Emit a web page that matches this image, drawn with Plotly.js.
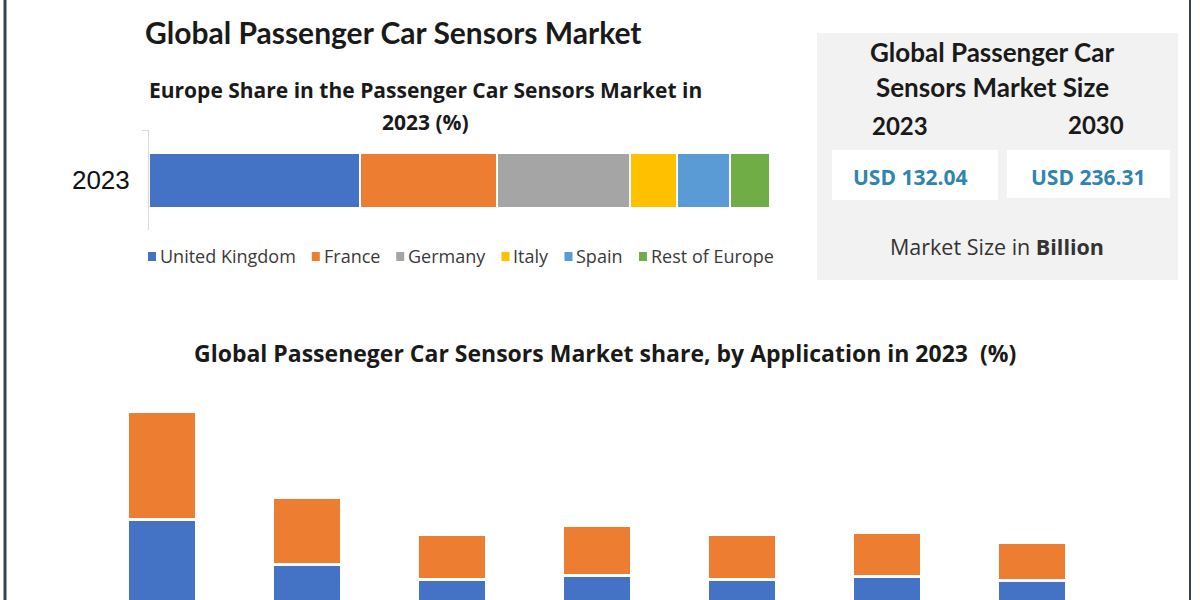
<!DOCTYPE html>
<html><head><meta charset="utf-8">
<script src="https://cdn.plot.ly/plotly-3.0.1.min.js"></script>
<style>html,body{margin:0;padding:0;background:#fff;overflow:hidden;} #chart{width:1200px;height:600px;}</style>
</head><body><div id="chart"></div>
<script>
// ---- data ----
const europeYear = ['2023'];
const europeCountries = ['United Kingdom', 'France', 'Germany', 'Italy', 'Spain', 'Rest of Europe'];
const europeShares = [34, 22, 21.5, 7.5, 8.5, 6.5];
const europeColors = ['#4472c4', '#ed7d31', '#a5a5a5', '#ffc000', '#5b9bd5', '#70ad47'];

const applications = ['Powertrain', 'Chassis', 'Exhaust', 'Safety & Control', 'Vehicle Security', 'Telematics', 'Others'];
const appSeriesNames = ['Series 1', 'Series 2'];
const appSeriesA = [13.4, 8.9, 7.4, 7.8, 7.4, 7.7, 7.3];
const appSeriesB = [10.8, 6.7, 4.5, 5.0, 4.5, 4.4, 3.8];
const appColors = ['#4472c4', '#ed7d31'];

const marketYears = ['2023', '2030'];
const marketValues = [132.04, 236.31];

// ---- helpers (pixel -> paper) ----
const W = 1200, H = 600;
const px = x => x / W;
const py = y => 1 - y / H;

const traces = [];
europeCountries.forEach((c, i) => {
  traces.push({
    type: 'bar', orientation: 'h', name: c,
    x: [europeShares[i]], y: europeYear,
    xaxis: 'x', yaxis: 'y', width: 0.55,
    marker: {color: europeColors[i], line: {color: '#ffffff', width: 2}},
    showlegend: false
  });
});
[appSeriesA, appSeriesB].forEach((vals, k) => {
  traces.push({
    type: 'bar', name: appSeriesNames[k],
    x: applications, y: vals,
    xaxis: 'x2', yaxis: 'y2', width: 0.476,
    marker: {color: appColors[k], line: {color: '#ffffff', width: 3}},
    showlegend: false
  });
});

const LATO = 'Lato, "Open Sans", sans-serif';
const OPEN = '"Open Sans", sans-serif';
const tf = (fam, s, c) => ({family: fam, size: s, color: c || '#1a1a1a'});
const ann = (text, x, y, font, xanchor) => ({text, x: px(x), y: py(y), xref: 'paper', yref: 'paper',
  showarrow: false, xanchor: xanchor || 'center', yanchor: 'middle', font});

const annotations = [
  ann('<b>Global Passenger Car Sensors Market</b>', 393, 32, tf(LATO, 30)),
  ann('<b>Europe Share in the Passenger Car Sensors Market in</b>', 425, 90, tf(OPEN, 21)),
  ann('<b>2023 (%)</b>', 425, 122, tf(OPEN, 21)),
  ann('<b>Global Passenger Car</b>', 992, 52, tf(LATO, 26)),
  ann('<b>Sensors Market Size</b>', 992, 87, tf(LATO, 26)),
  ann('<b>' + marketYears[0] + '</b>', 900, 126, tf(LATO, 24)),
  ann('<b>' + marketYears[1] + '</b>', 1096, 124, tf(LATO, 24)),
  ann('<b>USD ' + marketValues[0].toFixed(2) + '</b>', 910, 177, tf(OPEN, 21, '#2f85b0')),
  ann('<b>USD ' + marketValues[1].toFixed(2) + '</b>', 1088, 177, tf(OPEN, 21, '#2f85b0')),
  ann('Market Size in <b>Billion</b>', 997, 247, tf(OPEN, 21.5, '#333333')),
  ann('<b>Global Passeneger Car Sensors Market share, by Application in 2023  (%)</b>', 605, 353, tf(OPEN, 23))
];

const shapes = [
  {type: 'rect', xref: 'paper', yref: 'paper', x0: px(817), x1: px(1178), y0: py(280), y1: py(33),
   fillcolor: '#f2f2f2', line: {width: 0}, layer: 'below'},
  {type: 'rect', xref: 'paper', yref: 'paper', x0: px(832), x1: px(998), y0: py(200), y1: py(150),
   fillcolor: '#ffffff', line: {width: 0}, layer: 'below'},
  {type: 'rect', xref: 'paper', yref: 'paper', x0: px(1007), x1: px(1170), y0: py(198), y1: py(150),
   fillcolor: '#ffffff', line: {width: 0}, layer: 'below'},
  {type: 'line', xref: 'paper', yref: 'paper', x0: px(5), x1: px(5), y0: 0, y1: 1,
   line: {color: '#34444c', width: 3}},
  {type: 'line', xref: 'paper', yref: 'paper', x0: px(1190), x1: px(1190), y0: 0, y1: 1,
   line: {color: '#34444c', width: 2}}
];

// ---- legend for the Europe bar (swatch + label per series, laid out by measured text width) ----
const legendFontSize = 18;
const ctx = document.createElement('canvas').getContext('2d');
ctx.font = legendFontSize + 'px "Open Sans"';
let lx = 148;
const legendY = 256;
europeCountries.forEach((c, i) => {
  shapes.push({type: 'rect', xref: 'paper', yref: 'paper', x0: px(lx), x1: px(lx + 8),
    y0: py(legendY + 5), y1: py(legendY - 4), fillcolor: europeColors[i], line: {width: 0}});
  const tx = lx + 10;
  annotations.push(ann(c, tx, legendY, tf(OPEN, legendFontSize, '#3a3a3a'), 'left'));
  lx = tx + ctx.measureText(c).width + 18;
});

const layout = {
  width: W, height: H,
  margin: {l: 0, r: 0, t: 0, b: 0},
  paper_bgcolor: '#ffffff', plot_bgcolor: 'rgba(0,0,0,0)',
  barmode: 'stack',
  showlegend: false,
  xaxis: {domain: [px(149), px(770)], range: [0, 100], anchor: 'y',
    showgrid: false, zeroline: false, showticklabels: false, showline: false, fixedrange: true},
  yaxis: {domain: [py(230), py(130)], type: 'category', range: [-0.5, 0.5], anchor: 'x',
    showgrid: false, zeroline: false, showline: true, linecolor: '#d9d9d9', linewidth: 1,
    ticks: 'outside', tickson: 'boundaries', ticklen: 6, tickcolor: '#d9d9d9',
    ticklabelstandoff: 13,
    tickfont: {family: '"Liberation Sans", Arial, sans-serif', size: 26, color: '#111111'}, fixedrange: true},
  xaxis2: {domain: [px(90), px(1104)], type: 'category', range: [-0.5, 6.5], anchor: 'y2',
    showgrid: false, zeroline: false, showticklabels: false, showline: false, fixedrange: true},
  yaxis2: {domain: [0, py(380)], range: [5.3, 27.3], anchor: 'x2',
    showgrid: false, zeroline: false, showticklabels: false, showline: false, fixedrange: true},
  shapes, annotations
};

Plotly.newPlot('chart', traces, layout, {displayModeBar: false, staticPlot: true});
</script>
</body></html>
